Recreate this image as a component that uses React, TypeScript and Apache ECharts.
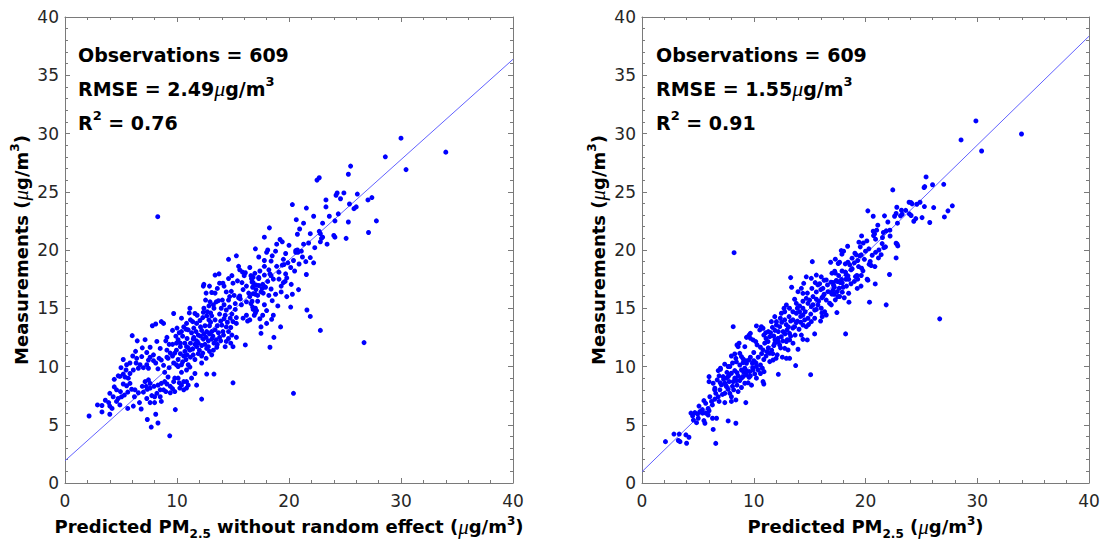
import React, { useEffect, useRef } from 'react';
import * as echarts from 'echarts';

// Left panel: predicted PM2.5 without random effect vs measurement
const leftPoints: number[][] = [
  [34.0,28.4],[28.6,28.0],[30.45,26.9],[30.0,29.6],[25.5,27.2],[25.3,26.5],[22.7,26.2],[22.5,26.0],[24.3,24.9],[24.2,24.7],
  [24.9,24.9],[24.6,24.4],[26.1,24.8],[27.05,24.3],[27.4,24.5],[23.3,24.3],[20.3,23.9],[25.4,23.95],[26.0,23.7],[25.8,23.55],
  [21.55,23.6],[23.3,23.7],[22.2,22.9],[24.4,23.1],[24.1,22.5],[25.3,22.4],[27.8,22.5],[20.65,22.6],[20.95,21.8],[18.25,21.9],
  [27.1,21.5],[22.7,21.6],[22.8,21.4],[23.0,21.1],[22.9,21.0],[20.75,21.35],[21.9,21.4],[17.8,21.1],[24.0,21.25],[24.1,21.1],
  [25.1,21.0],[19.2,20.9],[19.4,20.7],[21.75,20.6],[23.4,20.5],[22.8,20.7],[17.0,20.1],[18.1,20.0],[18.0,19.8],[19.7,19.7],
  [20.6,19.95],[20.75,20.0],[20.8,19.8],[21.1,19.9],[20.6,19.8],[17.3,19.4],[18.5,19.5],[21.2,19.4],[21.9,19.35],[17.8,19.1],
  [18.4,19.05],[22.2,18.9],[19.55,18.75],[19.4,18.7],[17.8,18.6],[16.5,18.5],[20.15,18.5],[20.5,18.2],[19.1,18.1],[18.3,17.95],
  [18.4,17.8],[19.7,17.95],[21.55,17.9],[16.6,17.8],[16.8,17.65],[16.65,17.55],[17.3,17.65],[17.3,17.55],[17.8,17.85],[19.1,17.5],
  [16.95,18.0],[16.7,17.25],[19.5,17.2],[19.65,17.3],[19.3,16.9],[20.2,17.05],[17.05,17.0],[17.3,16.95],[17.65,17.05],[17.8,16.85],
  [16.75,16.8],[17.05,16.6],[18.4,16.65],[17.5,16.4],[17.7,16.3],[17.9,16.8],[16.8,16.25],[17.0,16.2],[17.2,16.1],[18.8,16.2],
  [19.8,16.0],[20.3,16.2],[20.85,16.6],[16.5,16.0],[16.7,15.6],[16.6,15.4],[18.5,15.65],[17.0,15.0],[16.8,14.9],[17.1,14.8],
  [17.0,14.6],[16.75,15.1],[20.15,15.1],[21.6,14.85],[16.9,14.4],[17.65,14.4],[18.6,14.4],[18.45,14.05],[21.9,14.3],[16.5,14.0],
  [18.0,13.7],[17.5,13.4],[19.25,13.4],[17.5,12.85],[22.8,13.1],[18.65,12.5],[18.3,11.65],[26.7,12.05],[20.4,7.7],[8.28,22.86],
  [15.3,19.5],[14.6,19.2],[15.5,18.6],[15.85,18.1],[16.1,18.05],[16.0,17.8],[13.4,17.85],[13.75,17.95],[14.6,17.55],[14.1,17.15],
  [13.8,17.15],[15.0,17.15],[15.4,17.35],[12.4,17.05],[12.35,16.9],[14.4,16.4],[14.85,16.45],[15.6,16.05],[15.65,15.8],[13.4,16.3],
  [13.1,16.35],[12.6,16.3],[13.7,15.65],[13.5,15.55],[12.95,15.55],[12.55,15.7],[14.05,15.7],[14.6,15.7],[16.4,16.3],[16.2,15.55],
  [15.75,15.3],[13.95,15.0],[14.4,14.85],[15.2,14.9],[12.4,15.0],[12.35,14.65],[12.85,15.2],[13.25,15.3],[11.15,15.0],[11.1,14.6],
  [9.7,14.55],[10.4,14.15],[11.6,14.55],[11.8,14.4],[12.65,14.35],[12.85,14.0],[13.1,14.35],[13.8,14.5],[14.3,14.4],[14.75,14.15],
  [15.3,14.2],[15.9,14.15],[16.3,13.9],[16.2,14.4],[15.3,13.7],[15.0,13.85],[14.0,13.55],[14.4,13.4],[14.8,13.35],[12.05,13.95],
  [11.75,13.7],[11.4,13.85],[10.85,13.7],[10.6,13.4],[11.0,13.15],[8.1,13.65],[7.8,13.5],[8.6,13.85],[8.8,13.7],[6.0,12.65],
  [6.45,12.2],[7.15,12.3],[8.2,12.15],[9.1,12.5],[10.1,12.3],[9.95,12.0],[11.7,13.0],[11.9,12.7],[12.2,13.1],[12.65,13.0],
  [13.1,13.0],[13.4,13.15],[13.7,12.9],[13.8,12.5],[14.15,12.7],[14.6,13.0],[14.9,12.7],[15.3,12.5],[16.1,11.85],[11.45,12.35],
  [11.75,12.2],[12.35,12.35],[12.8,12.2],[13.1,12.35],[13.3,12.0],[14.4,12.15],[14.3,11.7],[15.0,11.7],[10.85,11.7],[11.15,11.4],
  [10.7,11.3],[11.75,11.7],[12.0,11.4],[12.3,11.15],[12.65,11.55],[12.9,11.3],[13.1,11.0],[13.25,11.4],[13.55,11.65],[11.45,11.0],
  [11.2,10.8],[10.3,11.7],[9.95,11.4],[9.8,11.15],[9.1,11.4],[9.4,11.15],[9.2,10.7],[8.4,10.7],[8.6,10.55],[7.6,10.8],
  [7.45,10.55],[6.85,10.85],[6.4,10.7],[6.05,10.9],[5.8,10.3],[5.5,10.15],[6.35,10.3],[6.7,10.15],[6.55,9.85],[7.3,10.15],
  [7.45,9.85],[9.7,10.3],[9.95,10.15],[10.1,10.0],[10.4,10.15],[11.0,10.15],[11.15,9.95],[10.85,9.7],[12.2,10.3],[12.65,9.35],
  [13.3,9.35],[15.0,8.6],[12.2,7.2],[5.45,9.7],[5.2,9.35],[5.35,9.1],[5.65,9.0],[4.9,9.15],[4.75,9.2],[4.4,8.25],
  [4.6,8.0],[4.95,7.85],[5.2,8.5],[5.5,8.35],[5.8,8.55],[5.95,8.05],[6.25,8.0],[6.55,7.75],[7.15,8.7],[7.45,8.85],
  [7.6,8.55],[7.25,8.3],[7.35,8.05],[7.6,8.15],[7.95,8.3],[8.3,8.4],[8.6,8.55],[9.1,8.5],[9.4,8.3],[9.7,8.7],
  [9.8,9.0],[10.1,9.0],[8.8,8.0],[9.0,7.85],[9.4,7.75],[9.8,7.85],[10.25,8.15],[10.4,8.4],[10.6,8.7],[10.85,8.7],
  [11.0,8.4],[10.85,8.15],[11.75,8.4],[8.2,7.7],[8.0,7.4],[7.75,7.5],[7.3,7.25],[7.6,6.9],[8.0,6.9],[8.5,7.4],
  [8.6,7.0],[6.65,6.9],[6.8,6.35],[4.75,7.25],[4.9,6.7],[4.6,7.0],[5.05,7.4],[5.3,7.55],[4.0,7.7],[4.3,7.4],
  [3.3,6.65],[2.9,6.7],[3.3,6.1],[4.0,6.6],[4.0,5.9],[4.2,6.4],[2.15,5.75],[7.35,5.45],[8.1,5.9],[8.3,5.15],
  [7.7,4.8],[9.85,6.3],[9.35,4.05],[7.6,11.65],[8.5,11.55],[9.1,10.8],
  [9.6,11.9],[9.9,12.6],[10.2,12.9],[10.5,12.6],[10.7,12.0],[10.9,12.4],[10.3,11.1],[10.6,10.9],[10.9,11.0],[10.1,10.6],
  [10.5,10.4],[10.8,10.6],[9.6,10.9],[9.3,11.9],[9.0,12.2],[9.6,13.1],[10.0,13.3],[10.4,13.0],[10.8,13.2],[10.3,12.0],
  [11.3,12.9],[11.5,12.5],[11.2,12.0],[11.6,11.9],[11.9,12.0],[12.1,12.6],[12.4,12.8],[12.6,12.5],[12.9,12.8],[12.2,11.8],
  [12.5,11.9],[12.8,11.7],[11.4,11.5],[11.9,11.1],[12.2,10.9],[12.6,10.7],[11.6,10.6],[11.0,11.6],[12.1,13.4],[12.5,13.5],
  [12.9,13.5],[11.5,13.3],[11.2,14.0],[12.3,14.2],[12.7,14.7],[13.0,13.8],[13.4,14.0],[13.6,13.5],[13.2,12.6],[13.5,12.3],
  [13.9,13.9],[14.2,14.1],[14.5,13.8],[14.1,13.0],[13.9,12.2],[14.6,12.4],[14.8,12.0],[13.6,11.9],[14.2,15.3],[14.7,15.1],
  [13.3,15.0],[13.0,14.6],[14.9,14.5],[15.2,15.4],[15.5,15.9],[15.1,16.1],[14.7,16.0],[15.9,16.6],[16.2,16.9],[15.8,17.2],
  [14.2,16.9],[13.6,16.7],[12.9,16.9],[14.9,17.8],[15.6,18.3],
  [16.8,17.2],[17.4,18.2],[17.6,16.7],[18.1,17.3],[18.6,17.5],[18.9,18.6],[18.2,18.3],[17.2,15.6],[17.8,15.3],[18.2,16.1],
  [19.3,16.4],[19.0,15.2],[18.0,14.8],[17.4,14.1],[19.9,18.9],[20.4,19.1],[21.3,20.5],[20.0,20.4],[18.8,19.9],[19.8,17.6],
  [20.9,18.8],[21.5,19.0],[22.3,20.2],[23.0,22.3],[23.6,22.9],[21.3,22.3],[19.5,19.2],[18.9,20.5],
  [6.3,11.3],[6.9,11.6],[7.3,11.2],[7.9,11.0],[8.1,10.3],[8.8,10.1],[8.3,9.8],[5.2,10.6],[5.0,9.9],[6.1,9.7],
  [5.8,9.4],[7.0,9.9],[7.9,10.5],[8.9,9.5],[9.3,9.9],
  [6.9,8.3],[7.0,7.8],[8.5,8.0],[8.9,8.7],[9.2,9.1],[9.6,8.1],[10.2,8.6],[10.6,8.0],[11.3,9.0],[11.6,9.4],
  [10.4,9.5],[6.2,7.4],[5.6,7.8],[4.4,8.9],[3.6,7.1],[3.9,6.9],[5.6,6.4],[6.1,6.6]
];

// Right panel: predicted PM2.5 vs measurement
const rightPoints: number[][] = [
  [2.1,3.55],[2.86,4.2],[3.33,4.2],[3.25,3.65],[3.4,3.55],[3.93,4.13],[3.99,3.41],[4.2,3.93],[6.6,3.4],[6.37,4.6],
  [7.71,5.33],[8.4,5.13],[4.38,6.0],[4.53,5.76],[4.73,6.04],[4.97,5.93],[5.18,6.13],[5.42,6.0],[4.6,5.4],[4.88,5.18],
  [5.03,5.56],[5.54,5.36],[5.63,5.13],[5.92,5.84],[6.31,5.56],[6.67,5.56],[5.92,6.4],[5.7,6.84],[5.54,7.07],[6.07,7.4],
  [6.22,7.0],[6.52,7.2],[6.82,7.4],[6.97,8.0],[7.41,7.7],[6.0,8.7],[6.37,8.56],[6.0,9.13],[6.73,8.85],[7.1,8.42],
  [6.52,8.13],[7.41,8.56],[7.56,8.27],[7.71,8.05],[7.26,9.13],[7.56,9.0],[7.8,9.28],[8.0,9.42],[8.3,9.65],[8.5,9.47],
  [7.86,7.7],[8.0,7.4],[8.4,7.13],[8.2,8.0],[8.6,7.85],[7.41,6.9],[8.0,7.0],[6.82,9.65],[7.02,9.76],[7.02,9.85],
  [7.71,10.0],[8.16,8.7],[8.45,8.8],[8.75,8.8],[8.5,8.4],[8.9,8.2],[9.29,6.9],[9.2,8.56],[9.5,8.6],[9.8,8.4],
  [9.05,9.13],[9.35,9.28],[9.58,9.07],[8.9,9.7],[9.2,9.85],[9.64,9.56],[9.94,9.7],[10.09,9.36],[10.24,9.0],[8.45,10.4],
  [8.75,10.13],[9.05,10.33],[9.35,10.28],[9.58,10.56],[9.88,10.28],[10.24,10.0],[10.6,10.13],[10.77,9.85],[10.92,9.56],[10.83,8.7],
  [10.9,8.5],[12.2,9.33],[13.75,10.08],[15.09,9.3],[8.16,13.42],[8.24,19.77],[8.6,11.7],[8.75,11.13],[8.3,11.08],[9.58,12.7],
  [9.7,12.42],[9.94,12.28],[10.18,12.14],[10.3,11.85],[10.6,11.65],[10.83,11.42],[11.19,11.28],[11.43,11.13],[10.98,12.0],[11.28,12.14],
  [11.43,12.56],[10.54,13.14],[10.83,13.28],[11.07,12.9],[11.67,13.36],[12.03,13.56],[12.32,13.42],[11.79,12.62],[12.17,12.42],[12.47,12.56],
  [12.62,13.0],[12.98,13.14],[13.2,12.85],[11.88,12.0],[12.32,11.85],[12.77,11.56],[12.92,12.14],[13.21,12.28],[13.51,12.0],[13.07,11.42],
  [12.56,10.8],[12.1,11.0],[11.73,10.56],[11.43,10.42],[12.03,13.85],[12.38,14.14],[12.77,14.0],[13.16,14.28],[13.51,14.0],[13.81,13.77],
  [13.81,14.57],[14.1,14.7],[14.4,14.42],[13.66,13.42],[14.05,13.2],[14.4,13.56],[14.55,14.0],[14.85,14.14],[15.15,13.85],[15.45,14.14],
  [14.7,13.42],[14.26,12.7],[14.4,12.33],[14.79,12.28],[15.45,12.8],[13.96,11.48],[13.21,10.7],[12.92,10.7],[13.81,15.42],[14.1,15.2],
  [14.4,15.0],[14.85,15.42],[15.15,15.14],[15.45,14.85],[14.7,15.85],[15.0,15.7],[15.3,16.0],[15.6,15.77],[15.74,15.28],[16.04,15.0],
  [16.34,14.7],[15.98,13.9],[16.13,14.28],[16.49,14.42],[14.4,16.28],[14.26,16.71],[14.47,17.14],[13.3,17.63],[13.39,16.8],[13.66,15.77],
  [13.96,16.42],[15.24,19.0],[14.7,17.7],[15.15,17.57],[15.6,17.85],[16.04,17.7],[16.49,17.43],[15.74,17.0],[16.19,16.71],[16.64,16.42],
  [16.19,16.0],[16.49,15.7],[12.47,14.57],[12.77,14.7],[12.71,15.0],[12.92,15.28],[11.88,14.28],[11.58,13.85],[10.68,13.42],[10.24,13.48],
  [9.7,12.85],[9.35,12.5],[8.69,12.0],[8.5,11.85],[9.2,11.7],[8.9,10.85],[9.05,10.65],[7.86,10.0],[7.71,9.13],[6.9,9.2],
  [33.96,29.96],[29.88,31.08],[28.55,29.45],[30.39,28.5],[25.42,26.27],[25.3,25.44],[25.24,25.36],[26.0,25.6],[27.0,25.64],[22.44,25.16],
  [24.08,24.07],[24.17,23.96],[24.59,23.93],[24.88,24.1],[25.27,23.73],[26.1,23.64],[27.77,23.79],[27.38,23.36],[27.06,22.84],[20.21,23.36],
  [22.8,23.67],[23.22,23.41],[22.74,23.13],[23.28,23.07],[23.13,22.93],[23.93,23.1],[24.08,22.96],[20.69,22.9],[21.7,22.93],[25.06,22.78],
  [25.75,22.36],[22.86,22.3],[24.32,22.47],[21.1,22.13],[21.85,21.64],[22.18,21.7],[20.69,21.61],[20.81,21.38],[20.72,21.24],[20.9,20.93],
  [19.65,21.21],[20.12,20.78],[21.52,21.07],[21.49,20.55],[21.64,20.2],[21.79,20.27],[22.74,20.58],[22.89,20.35],[22.83,20.5],[18.4,20.32],
  [17.83,19.95],[18.04,19.9],[17.89,19.64],[19.05,19.72],[19.17,19.58],[19.47,19.5],[19.62,19.58],[19.41,20.67],[19.53,20.27],[20.6,19.55],
  [21.16,19.32],[22.74,19.32],[16.88,18.95],[17.3,19.21],[17.68,18.95],[17.56,18.84],[18.19,18.81],[18.43,18.95],[18.6,18.72],[19.38,18.58],
  [19.65,18.44],[19.77,18.21],[20.33,18.78],[20.51,18.67],[20.42,19.01],[20.84,18.58],[18.81,18.38],[22.15,17.9],[17.24,18.18],[17.3,18.01],
  [17.0,18.01],[18.28,17.87],[18.43,17.78],[19.1,17.72],[19.23,17.81],[19.62,17.81],[20.15,17.49],[20.21,17.41],[20.87,17.09],[17.39,17.38],
  [17.5,17.29],[17.86,17.47],[18.25,17.49],[18.49,17.49],[16.91,17.24],[17.09,17.21],[17.15,16.98],[17.74,17.21],[17.92,17.18],[18.49,16.29],
  [19.26,16.7],[17.21,16.81],[17.09,16.55],[16.94,16.35],[17.0,16.21],[17.65,16.72],[17.47,16.43],[17.92,16.38],[17.3,15.72],[17.53,16.01],
  [17.68,16.01],[16.79,15.43],[16.94,15.29],[17.44,14.63],[18.52,15.52],[20.36,15.52],[21.85,15.29],[18.22,12.8],[26.64,14.09],
  [8.1,8.3],[8.3,9.0],[8.6,9.2],[8.9,9.0],[9.1,9.5],[9.4,9.6],[9.7,9.2],[9.9,9.9],[9.3,10.5],[9.7,10.8],
  [10.0,10.5],[10.2,10.3],[10.4,9.7],[10.6,9.4],[10.0,11.2],[10.4,10.8],[10.7,11.1],
  [10.9,10.6],[11.1,10.9],[11.3,11.6],[11.6,11.4],[11.8,11.8],[11.1,12.4],[11.5,12.9],[11.9,12.3],[12.2,12.1],[12.4,11.6],
  [12.0,10.7],[11.7,11.1],[12.6,12.2],[12.8,12.8],[12.2,13.0],[11.3,13.0],[10.9,12.7],[11.9,13.1],[12.5,13.8],[12.9,13.6],
  [13.1,13.4],[13.3,13.9],[13.5,13.3],[13.7,12.7],[13.3,12.6],[13.0,12.3],[13.9,13.9],[14.2,13.8],[14.2,14.3],[13.5,14.7],
  [13.9,15.0],[13.2,15.0],[14.6,14.7],[14.9,13.6],[15.1,14.5],[14.4,15.6],[15.3,15.3],[15.6,14.9],[15.8,15.6],[16.1,15.9],
  [16.3,16.2],[16.0,16.6],[15.6,16.4],[15.2,16.7],[14.8,16.3],[16.6,17.0],[16.3,17.4],[15.9,17.1],[15.5,17.2],[16.1,14.6],
  [17.6,17.8],[17.9,18.2],[18.2,18.1],[18.7,18.3],[18.0,16.8],[18.3,16.9],[18.7,17.1],[19.0,17.3],[19.3,17.5],[19.0,18.9],
  [18.8,19.3],[19.3,19.1],[19.9,19.2],[20.0,19.9],[20.3,20.1],[19.8,20.6],[20.9,19.8],[21.2,20.0],[21.4,19.6],[21.0,21.7],
  [21.6,21.5],[22.2,21.2],[22.0,22.4],[22.6,22.9],[23.6,23.4],[23.9,24.1],[24.5,22.7],[17.2,16.2],[18.1,15.9],[19.6,16.9],
  [5.1,6.6],[5.4,6.3],[5.7,6.0],[6.0,6.2],[6.3,6.7],[6.6,7.7],[6.9,7.0],[7.2,7.6],[7.5,8.4],[7.8,8.7],
  [7.0,8.6],[6.5,8.0],[7.3,8.9],[7.6,9.5],[8.1,10.3],[8.4,10.7],[8.0,10.9],[7.4,10.2]
];

const leftFit: number[][] = [[0, 1.91], [40, 36.37]];
const rightFit: number[][] = [[0, 0.97], [40, 38.35]];

const leftStats = { n: '609', rmse: '2.49', r2: '0.76' };
const rightStats = { n: '609', rmse: '1.55', r2: '0.91' };

const leftXName = '{b|Predicted PM}{sub|2.5}{b| without random effect (}{mu|μ}{b|g/m}{sup|3}{b|)}';
const rightXName = '{b|Predicted PM}{sub|2.5}{b| (}{mu|μ}{b|g/m}{sup|3}{b|)}';
const yName = '{b|Measurements (}{mu|μ}{b|g/m}{sup|3}{b|)}';

const FONT = 'DejaVu Sans';
const AXIS_COLOR = '#7a7a7a';

const nameRich = {
  b: { fontFamily: FONT, fontWeight: 'bold', fontSize: 18, color: '#000', lineHeight: 26 },
  sub: { fontFamily: FONT, fontWeight: 'bold', fontSize: 12, color: '#000', lineHeight: 12, height: 12, verticalAlign: 'bottom' },
  sup: { fontFamily: FONT, fontWeight: 'bold', fontSize: 12, color: '#000', lineHeight: 14, height: 14, verticalAlign: 'top' },
  mu: { fontFamily: 'Liberation Serif', fontStyle: 'italic', fontSize: 21, color: '#000', lineHeight: 26 },
};

const statRich = {
  b: { fontFamily: FONT, fontWeight: 'bold', fontSize: 19, color: '#000', lineHeight: 34 },
  sup: { fontFamily: FONT, fontWeight: 'bold', fontSize: 13, color: '#000', lineHeight: 20, height: 20, verticalAlign: 'top' },
  mu: { fontFamily: 'Liberation Serif', fontStyle: 'italic', fontSize: 22, color: '#000', lineHeight: 34 },
};

function statText(s: { n: string; rmse: string; r2: string }) {
  return (
    '{b|Observations = ' + s.n + '}\n' +
    '{b|RMSE = ' + s.rmse + '}{mu|μ}{b|g/m}{sup|3}\n' +
    '{b|R}{sup|2}{b| = ' + s.r2 + '}'
  );
}

function makeX(gridIndex: number, position: 'bottom' | 'top', name?: string) {
  const main = position === 'bottom';
  return {
    type: 'value', gridIndex, position, min: 0, max: 40, interval: 10,
    axisLine: { show: true, onZero: false, lineStyle: { color: AXIS_COLOR, width: 1 } },
    axisTick: { show: true, inside: true, length: 5, lineStyle: { color: AXIS_COLOR } },
    minorTick: { show: true, splitNumber: 5, length: 3, lineStyle: { color: AXIS_COLOR } },
    splitLine: { show: false },
    minorSplitLine: { show: false },
    axisLabel: { show: main, color: '#262626', fontFamily: FONT, fontSize: 17, margin: 9 },
    name: main ? name : undefined,
    nameLocation: 'middle', nameGap: 21,
    nameTextStyle: { rich: nameRich },
  };
}

function makeY(gridIndex: number, position: 'left' | 'right', name?: string) {
  const main = position === 'left';
  return {
    type: 'value', gridIndex, position, min: 0, max: 40, interval: 5,
    axisLine: { show: true, onZero: false, lineStyle: { color: AXIS_COLOR, width: 1 } },
    axisTick: { show: true, inside: true, length: 5, lineStyle: { color: AXIS_COLOR } },
    minorTick: { show: true, splitNumber: 5, length: 3, lineStyle: { color: AXIS_COLOR } },
    splitLine: { show: false },
    minorSplitLine: { show: false },
    axisLabel: { show: main, color: '#262626', fontFamily: FONT, fontSize: 17, margin: 6 },
    name: main ? name : undefined,
    nameLocation: 'middle', nameGap: 31, nameRotate: 90,
    nameTextStyle: { rich: nameRich },
  };
}

export default function App() {
  const ref = useRef<HTMLDivElement>(null);
  useEffect(() => {
    if (!ref.current) return;
    const chart = echarts.init(ref.current, undefined, { renderer: 'svg' });
    const option: any = {
      animation: false,
      backgroundColor: '#fff',
      grid: [
        { left: 65, top: 17, width: 448, height: 466 },
        { left: 642, top: 17, width: 447, height: 466 },
      ],
      xAxis: [
        makeX(0, 'bottom', leftXName),
        makeX(0, 'top'),
        makeX(1, 'bottom', rightXName),
        makeX(1, 'top'),
      ],
      yAxis: [
        makeY(0, 'left', yName),
        makeY(0, 'right'),
        makeY(1, 'left', yName),
        makeY(1, 'right'),
      ],
      series: [
        {
          type: 'line', xAxisIndex: 0, yAxisIndex: 0, data: leftFit, showSymbol: false, z: 1,
          lineStyle: { color: '#6262ff', width: 1 }, silent: true,
        },
        {
          type: 'scatter', xAxisIndex: 0, yAxisIndex: 0, data: leftPoints, symbolSize: 5, z: 2,
          itemStyle: { color: '#0000ff', opacity: 1 },
        },
        {
          type: 'line', xAxisIndex: 2, yAxisIndex: 2, data: rightFit, showSymbol: false, z: 1,
          lineStyle: { color: '#6262ff', width: 1 }, silent: true,
        },
        {
          type: 'scatter', xAxisIndex: 2, yAxisIndex: 2, data: rightPoints, symbolSize: 5, z: 2,
          itemStyle: { color: '#0000ff', opacity: 1 },
        },
      ],
      graphic: [
        { type: 'text', left: 78, top: 45, style: { text: statText(leftStats), rich: statRich } },
        { type: 'text', left: 656, top: 45, style: { text: statText(rightStats), rich: statRich } },
      ],
    };
    chart.setOption(option);
    return () => chart.dispose();
  }, []);
  return (
    <div
      ref={ref}
      style={{ position: 'fixed', left: 0, top: 0, width: 1103, height: 550, background: '#fff' }}
    />
  );
}
